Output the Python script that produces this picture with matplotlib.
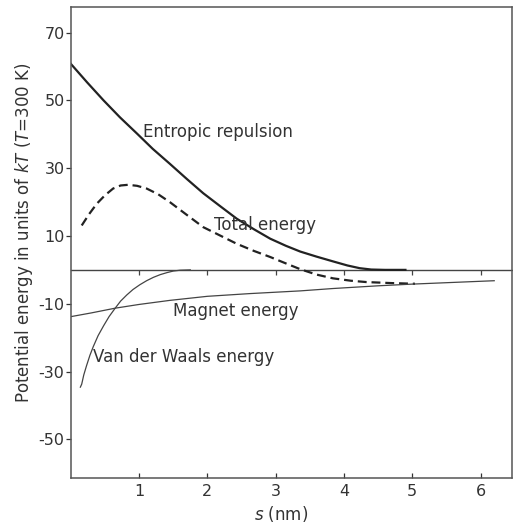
import matplotlib
matplotlib.use("Agg")
import matplotlib.pyplot as plt

plt.rcParams['font.family'] = ['DejaVu Sans']
plt.rcParams['mathtext.fontset'] = 'dejavusans'
plt.rcParams['axes.unicode_minus'] = False

# entropic repulsion (solid, heavy)
s_entropic = [0.0, 0.24, 0.48, 0.72, 0.97, 1.2, 1.45, 1.7, 1.94, 2.2, 2.43, 2.68,
              2.92, 3.15, 3.36, 3.6, 3.84, 4.05, 4.23, 4.4, 4.6, 4.9]
e_entropic = [60.8, 55.3, 50.0, 45.0, 40.2, 35.7, 31.3, 26.8, 22.6, 18.6, 15.1, 12.0,
              9.2, 7.1, 5.4, 3.9, 2.5, 1.3, 0.5, 0.1, 0.0, 0.0]

# total energy (dashed)
s_total = [0.16, 0.27, 0.38, 0.5, 0.62, 0.73, 0.84, 0.97, 1.11, 1.28, 1.45, 1.7,
           1.94, 2.2, 2.43, 2.68, 2.92, 3.15, 3.36, 3.6, 3.84, 4.1, 4.33, 4.7, 5.04]
e_total = [13.1, 16.5, 19.5, 22.0, 24.0, 24.9, 25.1, 24.8, 24.0, 22.3, 20.0, 16.2,
           12.6, 10.0, 7.7, 5.6, 3.8, 1.9, 0.2, -1.4, -2.5, -3.2, -3.6, -3.9, -4.1]

# magnet energy (thin)
s_magnet = [0.0, 0.3, 0.65, 1.0, 1.45, 2.0, 2.62, 3.36, 3.84, 4.5, 5.0, 5.6, 6.2]
e_magnet = [-13.8, -12.7, -11.3, -10.2, -9.0, -7.8, -7.0, -6.2, -5.5, -4.7, -4.2, -3.7, -3.2]

# van der Waals energy (thin)
s_vdw = [0.14, 0.16, 0.19, 0.23, 0.28, 0.33, 0.4, 0.48, 0.56, 0.65, 0.73, 0.82,
         0.91, 1.01, 1.11, 1.21, 1.31, 1.41, 1.5, 1.6, 1.75]
e_vdw = [-34.6, -33.7, -31.0, -28.3, -25.2, -22.6, -19.4, -16.5, -13.8, -11.3, -9.2, -7.4,
         -5.8, -4.4, -3.2, -2.2, -1.4, -0.8, -0.35, -0.1, 0.0]

xticks = [1, 2, 3, 4, 5, 6]
yticks = [70, 50, 30, 10, -10, -30, -50]

fig = plt.figure(figsize=(5.13, 5.27), dpi=100)
ax = fig.add_axes([0.138, 0.093, 0.860, 0.894])

ax.plot(s_entropic, e_entropic, color='#222222', lw=1.6)
ax.plot(s_total, e_total, color='#222222', lw=1.6, dashes=(4, 2.2))
ax.plot(s_magnet, e_magnet, color='#444444', lw=0.9)
ax.plot(s_vdw, e_vdw, color='#444444', lw=0.9)

ax.set_xlim(0, 6.46)
ax.set_ylim(-61.4, 77.6)

# zero line with small downward ticks
zero = ax.secondary_xaxis(0, transform=ax.transData)
zero.set_xticks(xticks)
zero.set_xticklabels([])
zero.tick_params(direction='out', length=3.5, width=0.9, color='#444444')
zero.spines['bottom'].set_linewidth(1.0)
zero.spines['bottom'].set_color('#444444')

ax.set_xticks(xticks)
ax.set_yticks(yticks)
ax.tick_params(axis='x', direction='in', length=3.5, width=0.9, labelsize=11.5, pad=4, colors='#333333')
ax.tick_params(axis='y', direction='out', length=3.5, width=0.9, labelsize=11.5, pad=1, colors='#333333')
for sp in ax.spines.values():
    sp.set_linewidth(1.1)
    sp.set_color('#555555')

ax.set_xlabel('$s$ (nm)', fontsize=12, color='#333333')
ax.set_ylabel('Potential energy in units of $kT$ ($T$=300 K)', fontsize=12, color='#333333')
ax.xaxis.set_label_coords(0.477, -0.055)
ax.yaxis.set_label_coords(-0.08, 0.52)

ax.text(1.06, 40.6, 'Entropic repulsion', fontsize=12, color='#333333', va='center', ha='left')
ax.text(2.09, 13.1, 'Total energy', fontsize=12, color='#333333', va='center', ha='left')
ax.text(1.5, -12.2, 'Magnet energy', fontsize=12, color='#333333', va='center', ha='left')
ax.text(0.33, -25.7, 'Van der Waals energy', fontsize=12, color='#333333', va='center', ha='left')

fig.savefig('out.png', dpi=100)
